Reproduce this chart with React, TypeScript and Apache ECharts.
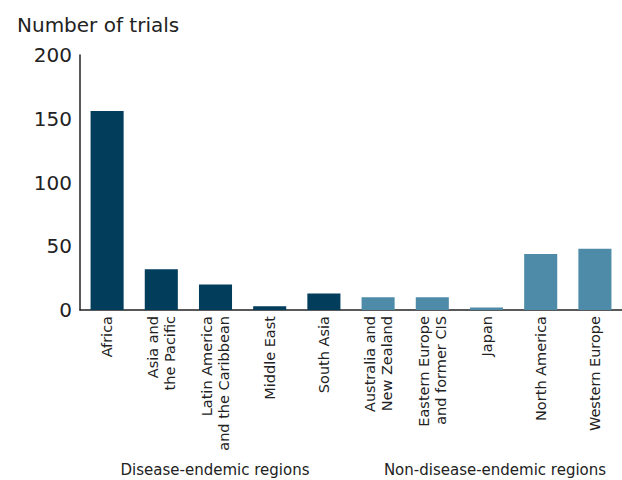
import React, { useEffect, useRef } from "react";
import * as echarts from "echarts";

const categories = [
  "Africa",
  "Asia and\nthe Pacific",
  "Latin America\nand the Caribbean",
  "Middle East",
  "South Asia",
  "Australia and\nNew Zealand",
  "Eastern Europe\nand former CIS",
  "Japan",
  "North America",
  "Western Europe",
];
const values = [156, 32, 20, 3, 13, 10, 10, 2, 44, 48];
const groupOf = [0, 0, 0, 0, 0, 1, 1, 1, 1, 1];
const groupColors = ["#023d5b", "#4e8ba9"];
const groupLabels = ["Disease-endemic regions", "Non-disease-endemic regions"];
const yTicks = { min: 0, max: 200, interval: 50 };

const FONT = "'DejaVu Sans', 'Liberation Sans', sans-serif";

export default function App() {
  const ref = useRef<HTMLDivElement>(null);
  useEffect(() => {
    const chart = echarts.init(ref.current!, null, { renderer: "svg" });
    chart.setOption({
      animation: false,
      textStyle: { fontFamily: FONT },
      grid: { left: 80, right: -3, top: 55, bottom: 170, containLabel: false },
      title: {
        text: "Number of trials",
        left: 12,
        top: 10,
        textStyle: { fontFamily: FONT, fontSize: 20, fontWeight: "normal", color: "#222" },
      },
      xAxis: {
        type: "category",
        data: categories,
        axisLine: { show: true, lineStyle: { color: "#222", width: 1.5 } },
        axisTick: { show: false },
        axisLabel: {
          rotate: 90,
          interval: 0,
          margin: 6,
          fontSize: 14.5,
          lineHeight: 17,
          color: "#222",
          fontFamily: FONT,
        },
      },
      yAxis: {
        type: "value",
        min: yTicks.min,
        max: yTicks.max,
        interval: yTicks.interval,
        axisLine: { show: true, lineStyle: { color: "#222", width: 1.5 } },
        axisTick: { show: false },
        splitLine: { show: false },
        axisLabel: { fontSize: 20, color: "#222", margin: 8, fontFamily: FONT },
      },
      series: [
        {
          type: "bar",
          data: values.map((v, i) => ({ value: v, itemStyle: { color: groupColors[groupOf[i]] } })),
          barCategoryGap: "39%",
        },
      ],
      graphic: [
        {
          type: "text",
          x: 215,
          y: 470,
          style: {
            text: groupLabels[0],
            fontSize: 15,
            fill: "#222",
            fontFamily: FONT,
            align: "center",
            verticalAlign: "middle",
          },
        },
        {
          type: "text",
          x: 495,
          y: 470,
          style: {
            text: groupLabels[1],
            fontSize: 15,
            fill: "#222",
            fontFamily: FONT,
            align: "center",
            verticalAlign: "middle",
          },
        },
      ],
    });
    return () => chart.dispose();
  }, []);
  return (
    <div
      ref={ref}
      style={{ position: "fixed", left: 0, top: 0, width: 622, height: 480, background: "#fff" }}
    />
  );
}
